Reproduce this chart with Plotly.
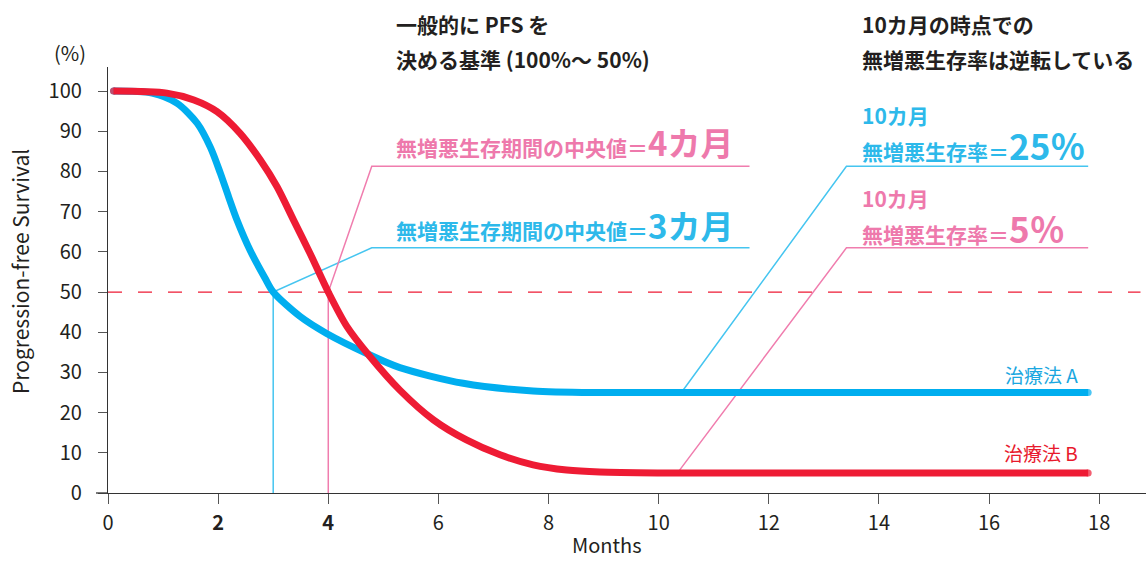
import plotly.graph_objects as go

# Progression-free survival curves (months, %)
months_a = [0.1, 0.8, 1.25, 1.62, 1.86, 2.04, 2.19, 2.34, 2.58, 2.85, 3.0, 3.49, 3.97,
            4.7, 5.3, 6.45, 7.72, 8.93, 10.0, 17.8]
pfs_a = [100, 99.5, 97, 92, 86, 79.6, 73.7, 68, 60.4, 53.5, 50, 43.9, 39.7,
         34.7, 31.2, 27.3, 25.4, 25.0, 25, 25]

months_b = [0.1, 1.07, 1.56, 1.98, 2.4, 2.77, 3.07, 3.37, 3.67, 4.0, 4.34, 4.76,
            5.3, 5.91, 6.51, 7.12, 7.72, 8.33, 8.93, 10.0, 17.8]
pfs_b = [100, 99.5, 97.8, 94.9, 89.5, 82.8, 76.2, 67.9, 59.6, 50, 41.4, 33.9,
         25.6, 18.2, 13.2, 9.5, 7.0, 5.7, 5.2, 5, 5]

# Medians and 10-month survival called out on the chart
median_a, median_b = 3, 4
month_ref = 10
rate_a_10, rate_b_10 = 25, 5

x_ticks = list(range(0, 19, 2))
x_tick_text = ["<b>2</b>" if v == 2 else "<b>4</b>" if v == 4 else str(v) for v in x_ticks]
y_ticks = list(range(0, 101, 10))

BLUE = "#00AEEF"
RED = "#EE1B34"
BLUE_LINE = "#45C5F0"
PINK_LINE = "#F07DAE"
BLUE_TEXT = "#2DB9EA"
PINK_TEXT = "#EE79AC"
INK = "#231F20"
FONT = "Noto Sans CJK JP"

L, T, W, H = 108, 67, 1038, 426


def px(x):
    return (x - L) / W


def py(y):
    return (T + H - y) / H


fig = go.Figure()

# Leader lines from the curves to the callouts
leaders = [
    ([median_a, median_a, 4.79, 11.65], [0, 50, 61, 61], BLUE_LINE),
    ([median_b, median_b, 4.79, 11.65], [0, 50, 81.3, 81.3], PINK_LINE),
    ([10.38, 13.41, 17.8], [rate_a_10 - 0.6, 81.3, 81.3], BLUE_LINE),
    ([10.38, 13.41, 17.8], [rate_b_10 + 0.7, 61, 61], PINK_LINE),
]
for xs, ys, col in leaders:
    fig.add_trace(go.Scatter(x=xs, y=ys, mode="lines", line=dict(color=col, width=1.5),
                             hoverinfo="skip", showlegend=False))

for xs, ys, col in [(months_a, pfs_a, BLUE), (months_b, pfs_b, RED)]:
    sizes = [0] * len(xs)
    sizes[0] = sizes[-1] = 7
    fig.add_trace(go.Scatter(
        x=xs, y=ys, mode="lines+markers",
        line=dict(color=col, width=7, shape="spline", smoothing=0.8),
        marker=dict(size=sizes, color=col, line=dict(width=0)),
        hoverinfo="skip", showlegend=False,
    ))

shapes = []
# 50% reference line
shapes.append(dict(type="line", xref="x", yref="y", x0=0, x1=18.75, y0=50, y1=50,
                   line=dict(color=RED, width=1.3, dash="14px,16px"), layer="below"))
# x axis line extends a little left of the y axis
shapes.append(dict(type="line", xref="paper", yref="paper", x0=px(96), x1=0, y0=0, y1=0,
                   line=dict(color="#333", width=1.3)))

ann = []


def text(x, y, s, size, color, xanchor="left", yanchor="middle", angle=0):
    ann.append(dict(x=px(x), y=py(y), xref="paper", yref="paper", text=s, showarrow=False,
                    xanchor=xanchor, yanchor=yanchor, textangle=angle,
                    font=dict(family=FONT, size=size, color=color)))


text(394, 24, "<b>一般的に PFS を</b>", 21, INK)
text(394, 59, "<b>決める基準 (100%〜 50%)</b>", 21, INK)
text(860, 24, "<b>10カ月の時点での</b>", 21, INK)
text(860, 59, "<b>無増悪生存率は逆転している</b>", 21, INK)

big = "<span style='font-size:{}px'>{}</span>"
text(394, 142, "<b>無増悪生存期間の中央値＝" + big.format(33, "4カ月") + "</b>", 21, PINK_TEXT)
text(394, 225, "<b>無増悪生存期間の中央値＝" + big.format(33, "3カ月") + "</b>", 21, BLUE_TEXT)
text(860, 115, "<b>10カ月</b>", 21, BLUE_TEXT)
text(860, 144, "<b>無増悪生存率＝" + big.format(35, "25％") + "</b>", 21, BLUE_TEXT)
text(860, 198, "<b>10カ月</b>", 21, PINK_TEXT)
text(860, 227, "<b>無増悪生存率＝" + big.format(35, "5％") + "</b>", 21, PINK_TEXT)

text(1080, 374, "治療法 A", 19, "#1AA7E0", xanchor="right")
text(1080, 452, "治療法 B", 19, "#E8192C", xanchor="right")

text(70, 52, "(%)", 20, INK, xanchor="center")
text(607, 561, "Months", 20, INK, xanchor="center", yanchor="bottom")
text(20, 272, "Progression-free Survival", 21, INK, xanchor="center", angle=-90)

fig.update_layout(
    width=1146, height=563,
    margin=dict(l=L, r=1146 - L - W, t=T, b=563 - T - H, pad=0),
    paper_bgcolor="white", plot_bgcolor="white",
    font=dict(family=FONT, color=INK),
    shapes=shapes, annotations=ann,
    xaxis=dict(range=[0, 18.85], showline=True, linecolor="#333", linewidth=1.3,
               ticks="outside", ticklen=10, tickcolor="#555", tickwidth=1.3,
               tickvals=x_ticks, ticktext=x_tick_text, showgrid=False, zeroline=False,
               tickfont=dict(size=20, color=INK), ticklabelstandoff=2),
    yaxis=dict(range=[0, 106], showline=True, linecolor="#333", linewidth=1.3,
               ticks="outside", ticklen=9, tickcolor="#555", tickwidth=1.3,
               tickvals=y_ticks, showgrid=False, zeroline=False,
               tickfont=dict(size=20, color=INK), ticklabelstandoff=12),
)

fig.write_html("out.html")
